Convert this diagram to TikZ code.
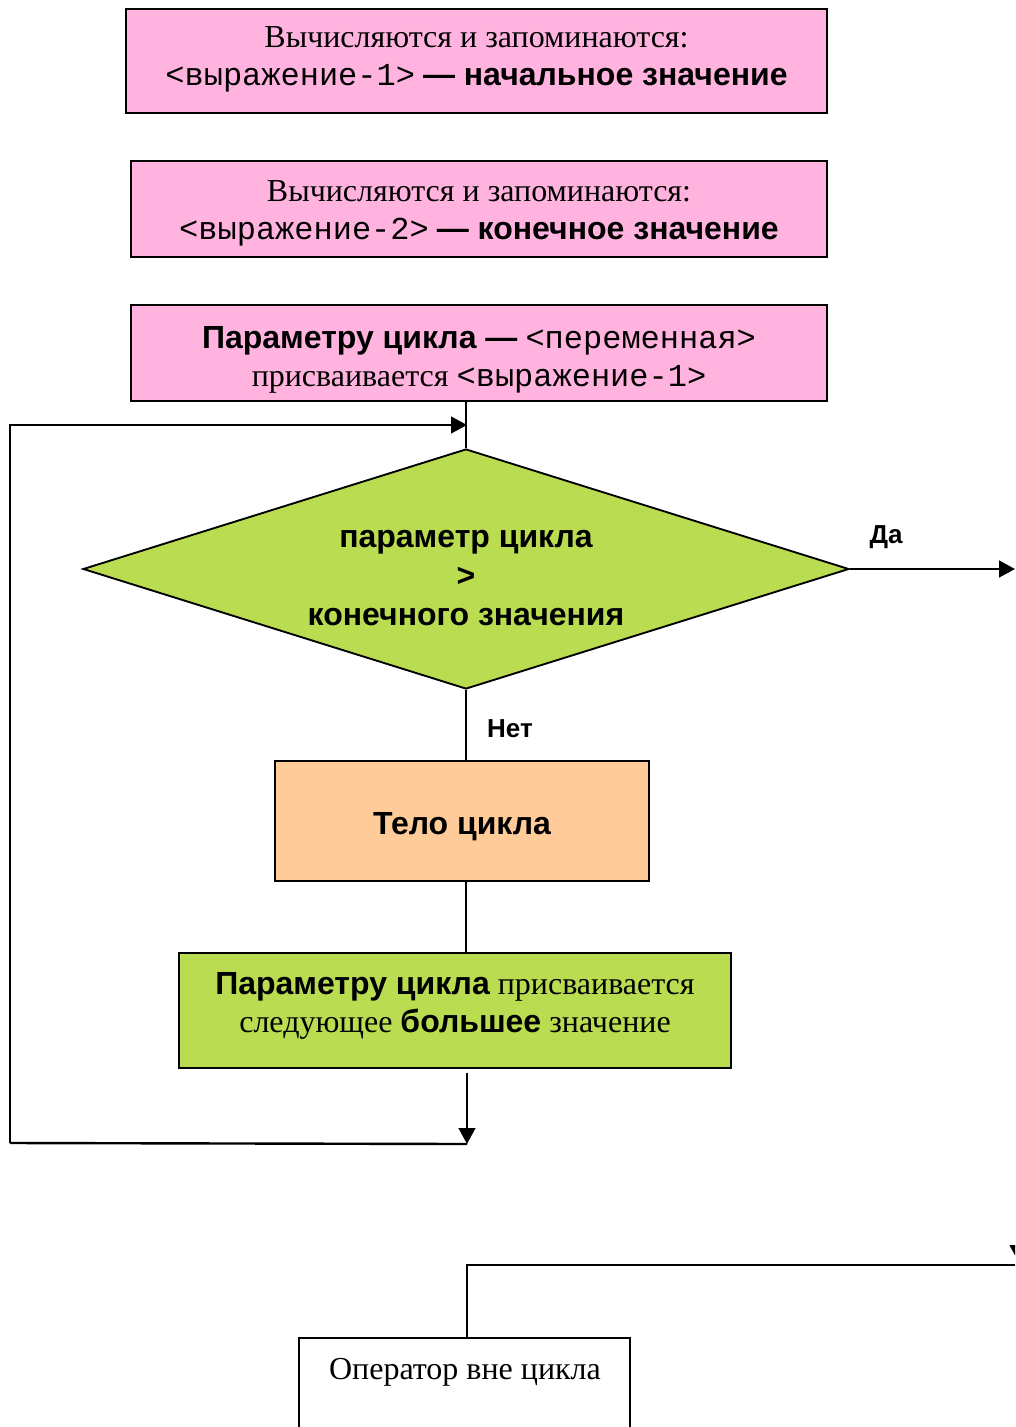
\documentclass[tikz,border=0pt]{standalone}
\usepackage{fontspec}
\setmainfont{Liberation Serif}
\setsansfont{Liberation Sans}
\setmonofont{Liberation Mono}
\usetikzlibrary{shapes.geometric,arrows.meta}
\definecolor{pinkfill}{RGB}{255,179,222}
\definecolor{limefill}{RGB}{185,220,80}
\definecolor{peachfill}{RGB}{255,204,153}
\newcommand\mytt[1]{{\ttfamily #1}}
\newcommand\mybf[1]{{\sffamily\bfseries #1}}
\begin{document}
\begin{tikzpicture}[x=0.75pt,y=-0.75pt,
  every node/.style={font=\fontsize{24pt}{28.5pt}\selectfont, align=center, inner sep=0pt},
  box/.style={draw, line width=1.4pt, rectangle},
  conn/.style={line width=1.8pt},
  arr/.style={conn, -{Triangle[length=12pt,width=12.5pt]}},
  lbl/.style={font=\fontsize{19.5pt}{22pt}\selectfont\sffamily\bfseries}]
\useasboundingbox (0,0) rectangle (1015,1427);
\clip (0,0) rectangle (1015,1427);

% boxes
\node[box, fill=pinkfill, minimum width=525.75pt, minimum height=78pt] (init) at (476.5,61) {};
\node (inittext) at (476.5,59.5)
  {Вычисляются и запоминаются:\\ \mytt{<выражение-1>} \mybf{— начальное значение}};
\node[box, fill=pinkfill, minimum width=522pt, minimum height=72pt] (final) at (479,209) {};
\node (finaltext) at (479,213.5)
  {Вычисляются и запоминаются:\\ \mytt{<выражение-2>} \mybf{— конечное значение}};
\node[box, fill=pinkfill, minimum width=522pt, minimum height=72pt] (assign) at (479,353) {};
\node (assigntext) at (479,360)
  {\mybf{Параметру цикла —} \mytt{<переменная>}\\ присваивается \mytt{<выражение-1>}};

\node[draw, line width=1.4pt, shape=diamond, fill=limefill, minimum width=574.5pt, minimum height=180pt] (cond) at (466,569) {};
\node[font=\fontsize{24pt}{29.5pt}\selectfont\sffamily\bfseries] (condtext) at (466,578)
  {параметр цикла\\ >\\ конечного значения};

\node[box, fill=peachfill, minimum width=280.5pt, minimum height=90pt] (body) at (462,821) {};
\node[font=\fontsize{24pt}{28.5pt}\selectfont\sffamily\bfseries] (bodytext) at (462,827) {Тело цикла};

\node[box, fill=limefill, minimum width=414pt, minimum height=86.25pt] (update) at (455,1010.5) {};
\node (updatetext) at (455,1005.5)
  {\mybf{Параметру цикла} присваивается\\ следующее \mybf{большее} значение};

\node[box, minimum width=248.25pt, minimum height=100pt, anchor=north] (exitbox) at (464.5,1337) {};
\node (exittext) at (465,1372) {Оператор вне цикла};

% labels
\node[lbl] (yes) at (886,537) {Да};
\node[lbl] (no) at (510,729) {Нет};

% coordinates
\coordinate (join) at (467,425);
\coordinate (ldown) at (467,1073);
\coordinate (lbot) at (467,1144);
\coordinate (lbotl) at (10,1143);
\coordinate (ltop) at (10,425);
\coordinate (yesend) at (1015,569);
\coordinate (exitcorner) at (467,1265);
\coordinate (exitright) at (1015,1265);
\coordinate (tipA) at (1018,1200);
\coordinate (tipB) at (1018,1261);

% connectors
\draw[conn] (cond.north) -- (cond.north |- assign.south);
\draw[arr] (lbotl) -- (ltop) -- (join);
\draw[arr] (cond.east) -- (yesend);
\draw[conn] (cond.south) -- (cond.south |- body.north);
\draw[conn] (cond.south |- body.south) -- (cond.south |- update.north);
\draw[arr] (ldown) -- (lbot);
\draw[conn] (lbot) -- (lbotl);
\draw[conn] (exitcorner |- exitbox.north) -- (exitcorner) -- (exitright);
\draw[arr] (tipA) -- (tipB);
\end{tikzpicture}
\end{document}
